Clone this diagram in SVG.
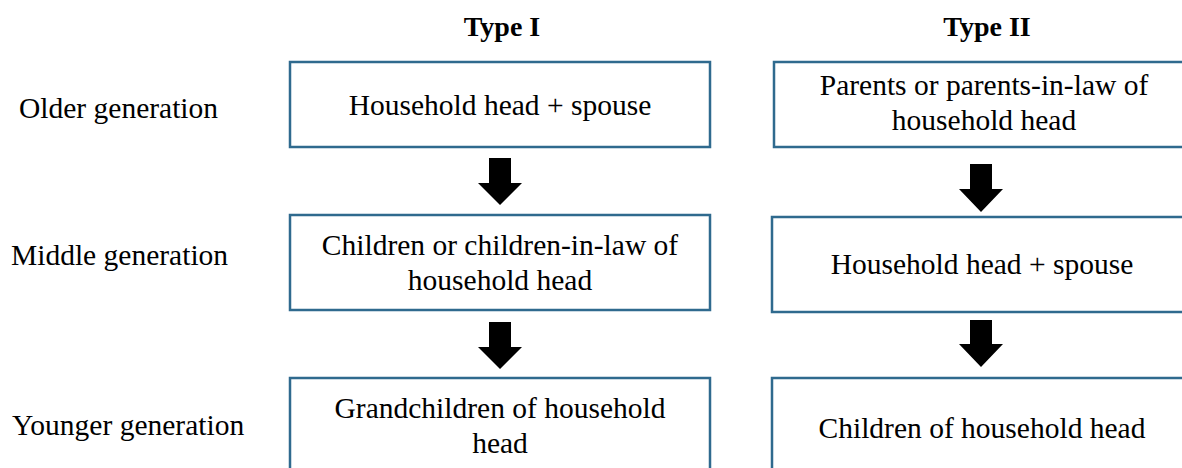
<svg xmlns="http://www.w3.org/2000/svg" width="1182" height="468" viewBox="0 0 1182 468">
<style>
.box{fill:#fff;stroke:#2f6a8e;stroke-width:2.5}
.t{font-family:"Liberation Serif","Times New Roman",serif;font-size:29.5px;fill:#000}
.c{text-anchor:middle}
.h{font-family:"Liberation Serif","Times New Roman",serif;font-size:28px;font-weight:bold;text-anchor:middle;fill:#000}
.arr{fill:#000}
</style>
<rect width="1182" height="468" fill="#fff"/>
<g id="headers">
<text class="h" x="502" y="36">Type I</text>
<text class="h" x="987" y="36">Type II</text>
</g>
<g id="row-labels">
<text class="t" x="19" y="118">Older generation</text>
<text class="t" x="11" y="265">Middle generation</text>
<text class="t" x="12" y="435">Younger generation</text>
</g>
<g id="t1-older">
<rect class="box" x="290" y="62" width="420" height="85"/>
<text class="t c" x="500" y="115">Household head + spouse</text>
</g>
<g id="t1-middle">
<rect class="box" x="290" y="215" width="420" height="95"/>
<text class="t c" x="500" y="255">Children or children-in-law of</text>
<text class="t c" x="500" y="290">household head</text>
</g>
<g id="t1-younger">
<rect class="box" x="290" y="378" width="420" height="100"/>
<text class="t c" x="500" y="418">Grandchildren of household</text>
<text class="t c" x="500" y="453">head</text>
</g>
<g id="t2-older">
<rect class="box" x="774" y="62" width="420" height="85"/>
<text class="t c" x="984" y="95">Parents or parents-in-law of</text>
<text class="t c" x="984" y="130">household head</text>
</g>
<g id="t2-middle">
<rect class="box" x="772" y="217" width="420" height="95"/>
<text class="t c" x="982" y="274">Household head + spouse</text>
</g>
<g id="t2-younger">
<rect class="box" x="772" y="378" width="420" height="100"/>
<text class="t c" x="982" y="438">Children of household head</text>
</g>
<g id="connectors">
<polygon class="arr" points="489,158 511,158 511,183 522,183 500,205 478,183 489,183"/>
<polygon class="arr" points="489,322 511,322 511,347 522,347 500,369 478,347 489,347"/>
<polygon class="arr" points="970,164 992,164 992,189 1003,189 981,212 959,189 970,189"/>
<polygon class="arr" points="970,320 992,320 992,344 1003,344 981,367 959,344 970,344"/>
</g>
</svg>
